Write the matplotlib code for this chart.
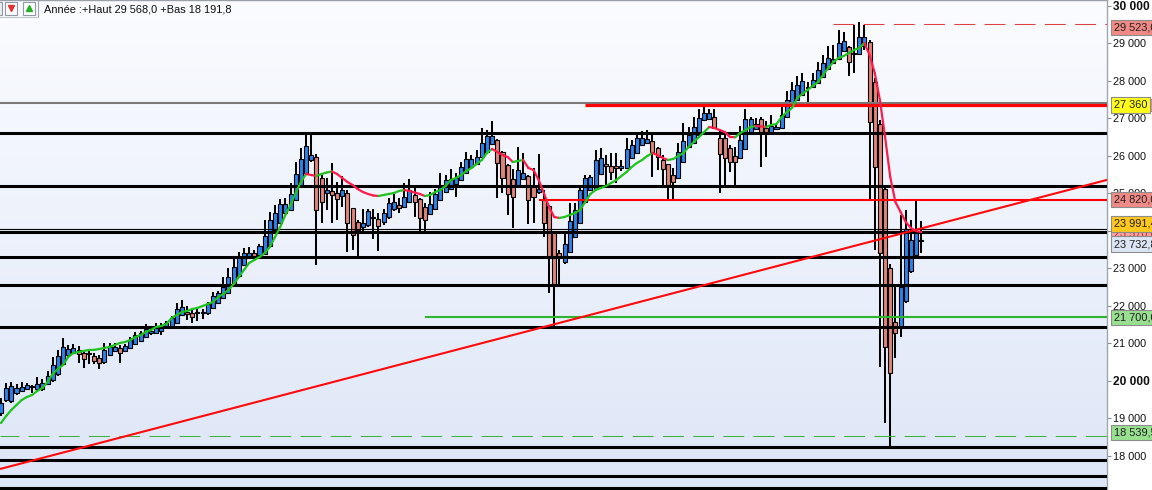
import numpy as np
import matplotlib
matplotlib.use("Agg")
import matplotlib.pyplot as plt
from matplotlib.colors import LinearSegmentedColormap
from matplotlib.collections import LineCollection
from matplotlib.patches import Rectangle
from matplotlib.lines import Line2D

plt.rcParams['font.family'] = ['Liberation Sans', 'DejaVu Sans']

# ---------------- data ----------------
opens = [19147, 19493, 19467, 19680, 19733, 19787, 19840, 19787, 19787, 19920,
         20027, 20187, 20453, 20693, 20747, 20827, 20747, 20747, 20667, 20613,
         20507, 20693, 20800, 20880, 20800, 20880, 20987, 21067, 21173, 21280,
         21280, 21333, 21440, 21467, 21547, 21760, 21840, 21813, 21813, 21800,
         21813, 21947, 22080, 22213, 22347, 22587, 22800, 23093, 23307, 23413,
         23360, 23387, 23600, 24027, 24213, 24480, 24560, 24827, 25227, 25547,
         25893, 25973, 25413, 25013, 25067, 25013, 24933, 25013, 24613, 24240,
         24107, 24160, 24347, 24320, 24240, 24373, 24587, 24693, 24640, 24773,
         24960, 24853, 24640, 24453, 24587, 24827, 25040, 25120, 25253, 25360,
         25547, 25707, 25787, 25973, 26107, 26320, 26427, 26107, 25760, 25387,
         25227, 25387, 25467, 25200, 25040, 24827, 24667, 23947, 23413, 23173,
         23440, 23840, 24213, 24773, 25093, 25120, 25520, 25787, 25733, 25707,
         25693, 25680, 25947, 26080, 26293, 26347, 26400, 26213, 25893, 25787,
         25493, 25413, 25840, 26240, 26347, 26560, 26960, 26987, 27040, 26480,
         26480, 26213, 26000, 25947, 26187, 26613, 26720, 26987, 26747, 26613,
         26720, 26747, 27040, 27360, 27493, 27627, 27840, 27840, 27947, 28107,
         28320, 28480, 28587, 28800, 28907, 28720, 28720, 28933, 29040, 27973,
         26853, 25120, 23013, 21573, 21440, 22133, 22933, 23360, 23733]
highs = [19547, 19947, 19973, 19920, 19973, 19947, 19893, 20107, 20053, 20267,
         20640, 20827, 21147, 20960, 20987, 20933, 20827, 20853, 20747, 20693,
         21013, 21013, 21013, 20960, 20987, 21173, 21307, 21333, 21520, 21413,
         21547, 21547, 21600, 21733, 22080, 22160, 22000, 21920, 21920, 21920,
         22107, 22373, 22400, 22773, 23013, 23307, 23440, 23547, 23573, 23493,
         23653, 24293, 24507, 24693, 24853, 24880, 25280, 25840, 26213, 26560,
         26640, 26053, 25493, 25413, 25813, 25307, 25467, 25093, 24613, 24293,
         24587, 24587, 24587, 24480, 24587, 24880, 25040, 24880, 25280, 25387,
         25147, 24880, 24747, 25040, 25120, 25547, 25493, 25653, 25547, 25840,
         26107, 26027, 26160, 26747, 26693, 26933, 26453, 26133, 25787, 25653,
         26240, 26080, 25493, 25680, 26053, 25093, 24693, 23973, 23493, 23947,
         24747, 24747, 25173, 25493, 25493, 26160, 26213, 26027, 26080, 26080,
         25893, 26480, 26427, 26613, 26667, 26693, 26613, 26240, 26027, 25787,
         25680, 26347, 26880, 26773, 27040, 27253, 27360, 27253, 27253, 26693,
         26613, 26293, 26240, 26800, 27253, 27040, 27013, 27040, 26933, 27093,
         26853, 27333, 27733, 27973, 28133, 28213, 27973, 28213, 28507, 28693,
         28933, 28960, 29360, 29307, 28933, 29493, 29568, 29493, 29093, 28080,
         26960, 25200, 23120, 22507, 24427, 24560, 24293, 24850, 24267]
lows = [19067, 19440, 19413, 19627, 19707, 19760, 19680, 19760, 19733, 19893,
        19973, 20133, 20400, 20640, 20720, 20480, 20347, 20453, 20453, 20320,
        20453, 20667, 20773, 20480, 20773, 20853, 20960, 21040, 21147, 21227,
        21253, 21227, 21413, 21440, 21520, 21733, 21627, 21547, 21600, 21653,
        21760, 21920, 22053, 22187, 22320, 22560, 22773, 23067, 23280, 23253,
        23307, 23360, 23573, 24000, 24187, 24453, 24533, 24800, 25200, 25520,
        25840, 23093, 24213, 24560, 24213, 24293, 24640, 23440, 23493, 23333,
        23947, 24107, 23787, 23467, 24160, 24320, 24533, 24480, 24613, 24747,
        24373, 24000, 24000, 24427, 24560, 24800, 25013, 25093, 24907, 25333,
        25520, 25680, 25760, 25947, 26080, 26293, 24880, 25013, 24427, 24080,
        25200, 25360, 24187, 24213, 24987, 23840, 22347, 21450, 22587, 23120,
        23413, 23813, 24187, 24747, 25067, 25093, 25493, 25227, 25360, 25280,
        25600, 25653, 25920, 26053, 26267, 26320, 25440, 25627, 25227, 24827,
        24827, 25387, 25813, 26213, 26320, 26533, 26933, 26960, 26720, 25013,
        25227, 25573, 25227, 25920, 26160, 26587, 26693, 25707, 25973, 26587,
        26693, 26720, 27013, 27333, 27467, 27600, 27333, 27813, 27920, 28080,
        28293, 28453, 28560, 28773, 28133, 28213, 28693, 28827, 24800, 23493,
        20373, 18880, 18192, 20613, 21173, 22080, 22880, 23333, 23400]
closes = [19413, 19813, 19867, 19813, 19840, 19893, 19850, 19920, 19947, 20133,
          20427, 20667, 20907, 20853, 20880, 20720, 20587, 20720, 20533, 20480,
          20827, 20907, 20907, 20747, 20933, 21093, 21227, 21280, 21387, 21333,
          21413, 21440, 21547, 21680, 21920, 21973, 21787, 21707, 21800, 21827,
          22053, 22267, 22347, 22507, 22773, 23040, 23307, 23413, 23413, 23307,
          23600, 23867, 24293, 24480, 24720, 24720, 24987, 25520, 25920, 26267,
          26027, 24560, 24773, 25093, 24960, 24853, 25093, 24213, 23893, 24027,
          24213, 24533, 24373, 24133, 24480, 24747, 24773, 24613, 24907, 25093,
          24773, 24347, 24293, 24720, 24987, 25227, 25360, 25387, 25413, 25707,
          25920, 25920, 25973, 26347, 26533, 26533, 25813, 25413, 24987, 24907,
          25627, 25547, 24827, 24907, 25120, 24213, 23307, 22587, 23307, 23653,
          24267, 24560, 25093, 25413, 25440, 25893, 25947, 25733, 25573, 25693,
          25707, 26187, 26293, 26480, 26480, 26453, 26107, 25973, 25653, 25227,
          25307, 26107, 26400, 26560, 26773, 27013, 27147, 27147, 26747, 26053,
          25947, 25840, 25840, 26427, 26987, 26987, 26853, 26640, 26640, 26800,
          26773, 27093, 27493, 27760, 27893, 28000, 27813, 28027, 28293, 28480,
          28613, 28587, 29013, 29067, 28507, 28747, 29173, 29173, 26907, 25707,
          23413, 20907, 20213, 21280, 22507, 24053, 23760, 23991, 23733]
ma_values = [18880, 19067, 19227, 19360, 19493, 19573, 19627, 19733, 19813, 19973,
             20187, 20320, 20427, 20640, 20747, 20773, 20800, 20827, 20830, 20853,
             20880, 20907, 20960, 21013, 21040, 21093, 21173, 21227, 21307, 21360,
             21440, 21467, 21520, 21680, 21760, 21840, 21867, 21920, 21947, 22000,
             22053, 22107, 22240, 22320, 22427, 22587, 22773, 22960, 23147, 23227,
             23307, 23413, 23573, 23840, 24107, 24427, 24693, 25013, 25307, 25520,
             25493, 25467, 25520, 25560, 25587, 25520, 25413, 25307, 25227, 25120,
             25040, 24987, 24947, 24933, 24960, 24987, 25013, 25067, 25093, 25067,
             25027, 24987, 24933, 24960, 25040, 25093, 25200, 25360, 25413, 25493,
             25600, 25680, 25787, 25893, 26080, 26187, 26107, 26027, 25973, 25840,
             25867, 25893, 25680, 25627, 25360, 25013, 24640, 24373, 24347, 24373,
             24427, 24480, 24560, 24773, 24987, 25093, 25147, 25200, 25280, 25360,
             25467, 25573, 25707, 25813, 25893, 26000, 26080, 26027, 25947, 25893,
             25920, 26000, 26080, 26240, 26373, 26507, 26640, 26773, 26747, 26693,
             26640, 26507, 26500, 26613, 26693, 26773, 26800, 26790, 26773, 26827,
             26853, 27040, 27173, 27280, 27547, 27653, 27760, 27867, 27973, 28160,
             28347, 28507, 28613, 28667, 28747, 28827, 28880, 29013, 28693, 28213,
             27493, 26507, 25440, 24773, 24507, 24240, 24080, 24000, 23973]

y_ticks = [18000, 19000, 20000, 21000, 22000, 23000, 24000, 25000, 26000,
           27000, 28000, 29000, 30000]
black_levels = [26600, 25200, 23960, 23300, 22560, 21440, 18240, 17900, 17470, 17150]
thin_black_level = 24050
gray_level = 27400
red_level_high = 27360
red_level_mid = 24820
green_level = 21700
year_high_dash = 29523.0
year_low_dash = 18539.5
trend_idx = [0, 214]
trend_val = [17660, 25365]
header = "Année :+Haut 29 568,0 +Bas 18 191,8"
price_tags = [  # (text, y-value for placement, face, text colour, zorder)
    ("29 523,0", 29430, "#f08a86", "#202020", 10),
    ("27 360", 27360, "#ffff1a", "#202020", 10),
    ("24 820,0", 24840, "#f08a86", "#202020", 10),
    ("23 570,0", 23920, "#f6a6a6", "#e02020", 9),
    ("23 991,4", 24187, "#ffc81e", "#202020", 10),
    ("23 732,8", 23653, "#dce5f4", "#202020", 10),
    ("21 700,0", 21700, "#98e090", "#202020", 10),
    ("18 539,5", 18630, "#98e090", "#202020", 10),
]

# ---------------- figure ----------------
W, H = 1152, 490
fig = plt.figure(figsize=(W / 100, H / 100), dpi=100)
fig.patch.set_facecolor("white")
plot_right = 1107
ax = fig.add_axes([0, 0, plot_right / W, 1])

n = len(closes)
idx = np.arange(n)
px_per_bar = 5.17
x0 = -1 / px_per_bar
x1 = (plot_right - 1) / px_per_bar
ytop, ybot = 30160, 17093

# background gradient
cmap = LinearSegmentedColormap.from_list("bg", ["#fbfcff", "#dde6f7"])
ax.imshow(np.linspace(0, 1, 256).reshape(-1, 1), cmap=cmap, aspect="auto",
          extent=[x0, x1, ybot, ytop], origin="upper", zorder=0)

# candles
o = np.array(opens, float); c = np.array(closes, float)
hi = np.array(highs, float); lo = np.array(lows, float)
up = c >= o
ax.vlines(idx, lo, hi, color="black", linewidth=1.45, zorder=2)
bottoms = np.minimum(o, c)
heights = np.maximum(np.abs(c - o), 30)
ax.bar(idx[up], heights[up], bottom=bottoms[up], width=0.78,
       color="#2a84ec", edgecolor="black", linewidth=0.8, zorder=3)
ax.bar(idx[~up], heights[~up], bottom=bottoms[~up], width=0.78,
       color="#e3847a", edgecolor="black", linewidth=0.8, zorder=3)

# horizontal levels
for lv in black_levels:
    ax.axhline(lv, color="black", linewidth=2.2, zorder=4)
ax.axhline(thin_black_level, color="black", linewidth=0.8, zorder=4)
ax.axhline(gray_level, color="#7a7a7a", linewidth=1.5, zorder=4)
ax.hlines(red_level_high, 113, x1, color="#ff0000", linewidth=2.3, zorder=5)
ax.hlines(red_level_mid, 104, x1, color="#ff0000", linewidth=1.5, zorder=5)
ax.hlines(green_level, 82, x1, color="#2db52d", linewidth=1.5, zorder=5)
ax.hlines(year_high_dash, 161, x1, color="#e04040", linewidth=0.75,
          linestyles=(0, (20, 9)), zorder=5)
ax.hlines(year_low_dash, x0, x1, color="#3cb43c", linewidth=0.75,
          linestyles=(2, (20, 9)), zorder=5)

# trend line
ax.plot(trend_idx, trend_val, color="#ff0a0a", linewidth=1.5, zorder=6)

# moving average coloured by slope
ma = np.array(ma_values, float)
pts = np.column_stack([idx, ma])
segs = np.stack([pts[:-1], pts[1:]], axis=1)
cols = ["#1fc21f" if ma[i + 1] >= ma[i] else "#ff1a4c" for i in range(n - 1)]
ax.add_collection(LineCollection(segs, colors=cols, linewidths=1.6, zorder=7,
                                 capstyle="round", joinstyle="round"))

ax.set_xlim(x0, x1)
ax.set_ylim(ybot, ytop)
ax.set_xticks([])

# y axis on the right
ax.yaxis.tick_right()
ax.set_yticks(y_ticks)
ax.set_yticklabels([f"{v:,}".replace(",", " ") for v in y_ticks])
ax.tick_params(axis="y", direction="out", length=3, width=0.8, color="#8a8f99",
               pad=1.5, labelsize=7.8, labelcolor="#101010")
for lab, v in zip(ax.get_yticklabels(), y_ticks):
    if v % 10000 == 0:
        lab.set_fontweight("bold")
        lab.set_fontsize(8.6)
for side in ["left", "bottom"]:
    ax.spines[side].set_visible(False)
ax.spines["right"].set_color("#a0a6b0")
ax.spines["right"].set_linewidth(1.0)
ax.spines["top"].set_color("#9aa0a8")
ax.spines["top"].set_linewidth(1.0)


def fx(xp):
    return xp / W


def fy(yp):
    return 1 - yp / H


def price_to_py(v):
    return (ytop - v) / (ytop - ybot) * H


# price tags on the axis
for txt, v, fc, tc, zo in price_tags:
    yp = price_to_py(v)
    fig.text(fx(1114), fy(yp), txt, fontsize=7.9, color=tc, va="center", ha="left",
             zorder=zo,
             bbox=dict(boxstyle="square,pad=0.24", fc=fc, ec="#8c8c8c", lw=0.8))
# small second tag behind "27 360"
fig.add_artist(Rectangle((fx(1148), fy(price_to_py(27360)) - 6 / H), 6 / W, 12 / H,
                         transform=fig.transFigure, fc="#f08a86", ec="#8c8c8c",
                         lw=0.8, zorder=9))

# header toolbar
fig.add_artist(Line2D([fx(38), fx(38)], [fy(0), fy(17)], transform=fig.transFigure,
                      color="#9aa0a8", lw=0.8))
fig.add_artist(Line2D([0, fx(38)], [fy(17), fy(17)], transform=fig.transFigure,
                      color="#c0c4cc", lw=0.8))
for xi, col, mk in [(5, "#e03030", "v"), (23, "#20b020", "^")]:
    fig.add_artist(Rectangle((fx(xi), fy(15)), 12 / W, 13 / H, transform=fig.transFigure,
                             fc="white", ec="#9098a8", lw=0.8, zorder=11))
    fig.add_artist(Line2D([fx(xi + 6)], [fy(8.5)], transform=fig.transFigure,
                          marker=mk, color=col, markersize=5, zorder=12))
fig.add_artist(Rectangle((fx(-4), fy(15)), 6 / W, 13 / H, transform=fig.transFigure,
                         fc="#e8ecf4", ec="#9098a8", lw=0.8, zorder=11))
fig.text(fx(44), fy(9), header, fontsize=7.9, color="#101010", va="center", ha="left",
         zorder=12)

fig.savefig("out.png", dpi=100)
